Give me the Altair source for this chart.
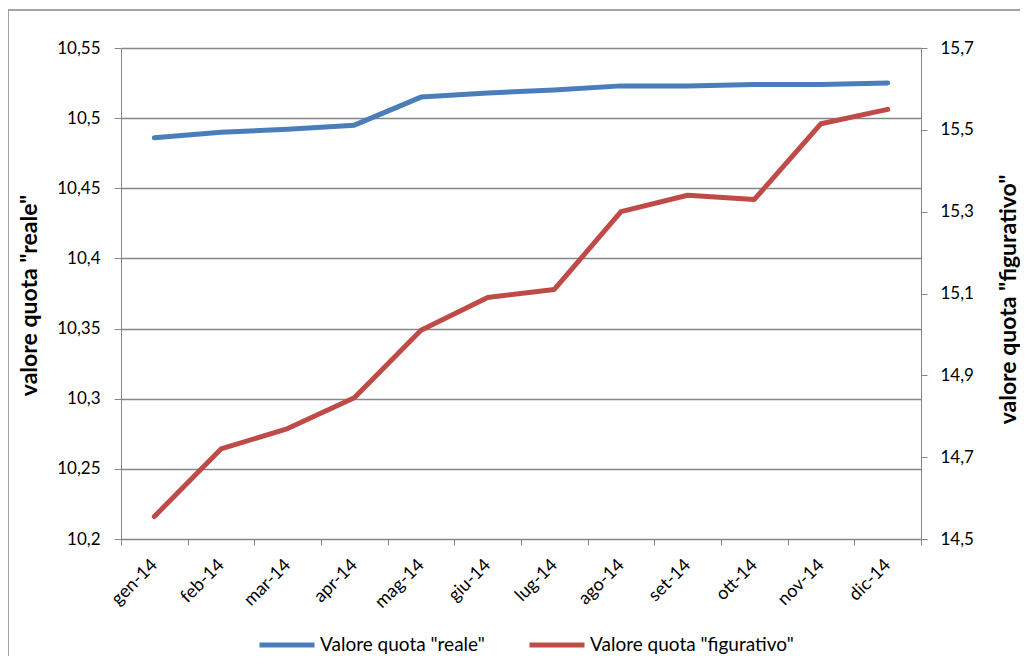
import altair as alt
import pandas as pd

months = ["gen-14", "feb-14", "mar-14", "apr-14", "mag-14", "giu-14",
          "lug-14", "ago-14", "set-14", "ott-14", "nov-14", "dic-14"]
reale = [10.486, 10.490, 10.492, 10.495, 10.515, 10.518,
         10.520, 10.523, 10.523, 10.524, 10.524, 10.525]
figurativo = [14.555, 14.720, 14.770, 14.845, 15.010, 15.090,
              15.110, 15.300, 15.340, 15.330, 15.515, 15.550]
left_ticks = [10.2, 10.25, 10.3, 10.35, 10.4, 10.45, 10.5, 10.55]
right_ticks = [14.5, 14.7, 14.9, 15.1, 15.3, 15.5, 15.7]
series_names = ['Valore quota "reale"', 'Valore quota "figurativo"']
series_colors = ["#4A7EBB", "#BE4B48"]

df = pd.DataFrame({"mese": months, "reale": reale, "figurativo": figurativo})

FONT = "Lato"
GRAY = "#868686"

xenc = alt.X("mese:N", sort=months,
             scale=alt.Scale(type="band", paddingInner=0, paddingOuter=0),
             bandPosition=0.5,
             axis=alt.Axis(title=None, labelAngle=-45, labelAlign="right",
                           labelBaseline="middle", tickBand="extent",
                           labelFontSize=18, labelFont=FONT, labelColor="#000000",
                           domainColor=GRAY, tickColor=GRAY, tickSize=6,
                           labelPadding=17, grid=False))

color = alt.Color("serie:N",
                  scale=alt.Scale(domain=series_names, range=series_colors),
                  legend=alt.Legend(title=None, orient="none", direction="horizontal",
                                    legendX=136, legendY=567,
                                    symbolType="stroke", symbolSize=3025,
                                    symbolStrokeWidth=5, labelFontSize=19,
                                    labelFont=FONT, labelColor="#000000",
                                    labelLimit=400,
                                    labelOffset=3, columnPadding=34, padding=0))

left_lab = "replace(format(datum.value, '.4~'), '.', ',')"
right_lab = "replace(format(datum.value, '.1f'), '.', ',')"

line_reale = alt.Chart(df).transform_calculate(
    serie=alt.expr.toString(series_names[0])
).mark_line(strokeWidth=5, strokeCap="round", strokeJoin="round").encode(
    x=xenc,
    y=alt.Y("reale:Q", scale=alt.Scale(domain=[10.2, 10.55], zero=False, nice=False),
            axis=alt.Axis(values=left_ticks, labelExpr=left_lab, grid=True,
                          gridColor=GRAY, gridWidth=1.3, domainColor=GRAY,
                          tickColor=GRAY, tickSize=7, labelPadding=14,
                          labelFontSize=17, labelFont=FONT, labelColor="#000000",
                          title='valore quota "reale"', titleFont=FONT,
                          titleFontSize=23, titleFontWeight="bold",
                          titleColor="#000000", titleAngle=270,
                          titleAlign="center", titleBaseline="middle",
                          titleX=-92, titleY=247)),
    color=color,
)

line_fig = alt.Chart(df).transform_calculate(
    serie=alt.expr.toString(series_names[1])
).mark_line(strokeWidth=5, strokeCap="round", strokeJoin="round").encode(
    x=xenc,
    y=alt.Y("figurativo:Q", scale=alt.Scale(domain=[14.5, 15.7], zero=False, nice=False),
            axis=alt.Axis(orient="right", values=right_ticks, labelExpr=right_lab,
                          grid=False, domainColor=GRAY, tickColor=GRAY,
                          tickSize=6, labelPadding=13, labelFontSize=17,
                          labelFont=FONT, labelColor="#000000",
                          title='valore quota "figurativo"', titleFont=FONT,
                          titleFontSize=23, titleFontWeight="bold",
                          titleColor="#000000", titleAngle=270,
                          titleAlign="center", titleBaseline="middle",
                          titleX=87, titleY=251)),
    color=color,
)

border = alt.Chart(pd.DataFrame({"a": [0]})).mark_rect(
    fill="transparent", stroke=GRAY, strokeWidth=1.5
).encode(x=alt.value(-113), x2=alt.value(1000), y=alt.value(-38), y2=alt.value(700))

chart = alt.layer(border, line_reale, line_fig).resolve_scale(
    y="independent"
).properties(
    width=800, height=491,
    autosize=alt.AutoSizeParams(type="none"),
    padding={"left": 113, "top": 40, "right": 99, "bottom": 117},
    background="#ffffff",
).configure_view(strokeWidth=0)

chart.save("out.html", embed_options={"renderer": "svg", "actions": False})
